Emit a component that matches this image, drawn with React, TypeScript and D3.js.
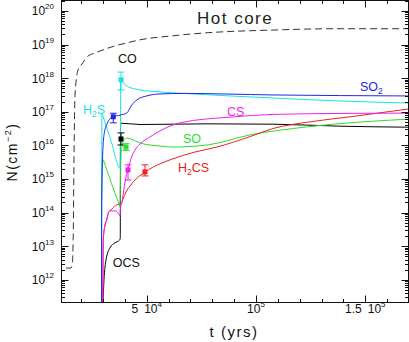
import React from 'react';
import * as d3 from 'd3';

const W = 409;
const H = 342;

// axes: time in yrs, column density as log10 N(cm^-2)
const T_RANGE = [11250, 169550];
const LOGN_RANGE = [11.324, 20.31];
const T_MAJOR = [50000, 100000, 150000];
const T_MAJOR_LABELS = [['5\u2002', '4'], ['', '5'], ['1.5\u2002', '5']];
const T_MINOR_STEP = 10000;
const DECADES = [12, 13, 14, 15, 16, 17, 18, 19, 20];

// model curves, [t (yrs), log10 N]
const HOT_CORE = [
  [13080, 12.35], [15370, 12.35], [16050, 12.53], [16420, 13.48], [16740, 15.65],
  [17200, 17.5], [18570, 18.24], [20400, 18.42], [22690, 18.63], [26350, 18.75],
  [30010, 18.84], [35500, 18.96], [40990, 19.05], [46940, 19.14], [62030, 19.26],
  [77590, 19.35], [92680, 19.4], [107780, 19.43], [123340, 19.46], [138430, 19.47],
  [169550, 19.47],
];
const H2S = [
  [29320, 11.34], [29400, 14.5], [29470, 16.3], [29550, 16.955], [29800, 16.906],
  [33670, 16.14], [37790, 15.33], [38020, 16.6], [38110, 17.95], [40080, 17.8],
  [42360, 17.72], [46940, 17.65], [56080, 17.59], [66610, 17.545], [107780, 17.41],
  [138430, 17.32], [169550, 17.26],
];
const SO2 = [
  [29320, 11.34], [29410, 14.375], [29780, 15.57], [30470, 16.31], [31840, 16.64],
  [33210, 16.79], [34720, 16.85], [37790, 16.9], [40850, 16.96], [43140, 17.2],
  [45430, 17.35], [50000, 17.47], [56080, 17.53], [66610, 17.545], [107780, 17.5],
  [169550, 17.47],
];
const OCS = [
  [30010, 11.34], [30470, 12.0], [31380, 12.59], [33210, 12.95], [35500, 13.1],
  [37560, 13.18], [37900, 13.24], [38020, 16.5], [38110, 16.66], [46940, 16.62],
  [77590, 16.64], [107780, 16.63], [138430, 16.57], [169550, 16.54],
];
const SO = [
  [29320, 11.34], [29410, 14.375], [29780, 15.42], [30140, 15.57], [30400, 15.522],
  [37500, 14.22], [37790, 14.17], [38020, 15.12], [38480, 15.86], [39620, 16.16],
  [40990, 16.22], [42820, 16.19], [46940, 16.07], [56080, 15.98], [62030, 15.95],
  [77590, 16.01], [97260, 16.31], [123340, 16.55], [169550, 16.78],
];
const CS = [
  [29900, 11.34], [30140, 13.2], [30920, 13.63], [31700, 13.78], [32430, 13.99],
  [33210, 14.05], [35500, 14.05], [36870, 13.99], [37790, 13.9], [38110, 14.2],
  [38480, 14.25], [39160, 14.52], [39850, 14.82], [40530, 15.06], [41450, 15.27],
  [42820, 15.6], [44650, 15.86], [46940, 16.04], [51510, 16.25], [56080, 16.43],
  [65230, 16.67], [88110, 16.84], [107780, 16.92], [138430, 16.95], [169550, 16.96],
];
const H2CS = [
  [29900, 11.34], [30140, 13.2], [30920, 13.63], [31700, 13.78], [32430, 13.99],
  [34130, 14.11], [36280, 14.23], [37790, 14.26], [38570, 14.29], [39160, 14.4],
  [40530, 14.61], [42360, 14.79], [44650, 14.97], [46940, 15.1], [49220, 15.21],
  [56080, 15.45], [62030, 15.6], [72000, 15.8], [82160, 15.95], [97260, 16.26],
  [107780, 16.5], [124710, 16.7], [144380, 16.86], [169550, 17.08],
];

// observed columns: [t, log10 N, low, high]
const OBS_H2S = [38250, 17.95, 17.65, 18.18];
const OBS_SO2 = [34720, 16.85, 16.67, 16.955];
const OBS_OCS = [38250, 16.19, 16.01, 16.37];
const OBS_SO = [40530, 15.95, 15.85, 16.05];
const OBS_CS = [41450, 15.27, 14.97, 15.42];
const OBS_H2CS = [49220, 15.21, 15.09, 15.42];

const C = {
  h2s: '#17e3e3',
  so2: '#2323ee',
  ocs: '#000',
  so: '#2bdc2b',
  cs: '#ee1fee',
  h2cs: '#ee2020',
  hot: '#333',
};

const FONT = '"Liberation Sans", Arial, sans-serif';

export default function App() {
  const x = d3.scaleLinear().domain(T_RANGE).range([62, 408]);
  const y = d3
    .scaleLog()
    .domain(LOGN_RANGE.map((v) => 10 ** v))
    .range([302.5, 0.5]);
  const yl = (v: number) => y(10 ** v);
  const line = d3
    .line<number[]>()
    .x((d) => x(d[0]))
    .y((d) => yl(d[1]))
    .curve(d3.curveMonotoneX);

  const L = 61.5;
  const R = 408.5;
  const T = 0.5;
  const B = 302.5;

  const yMinor: number[] = [];
  for (let d = 11; d <= 20; d++) {
    for (let k = 2; k <= 9; k++) {
      const v = d + Math.log10(k);
      if (v > LOGN_RANGE[0] && v < LOGN_RANGE[1]) yMinor.push(v);
    }
  }
  const tMinor = d3
    .range(20000, T_RANGE[1], T_MINOR_STEP)
    .filter((t) => !T_MAJOR.includes(t));

  const curves: [number[][], string][] = [
    [OCS, C.ocs],
    [SO, C.so],
    [H2CS, C.h2cs],
    [CS, C.cs],
    [H2S, C.h2s],
    [SO2, C.so2],
  ];
  const obs: [number[], string][] = [
    [OBS_H2S, C.h2s],
    [OBS_SO2, C.so2],
    [OBS_OCS, C.ocs],
    [OBS_SO, C.so],
    [OBS_CS, C.cs],
    [OBS_H2CS, C.h2cs],
  ];

  const label = (t: number, v: number) => ({ x: x(t), y: yl(v) });
  const sub = (main: string, s: string, rest: string, t: number, v: number, color: string) => {
    const p = label(t, v);
    return (
      <text x={p.x} y={p.y} fill={color} fontSize={12.5}>
        {main}
        <tspan fontSize={8.5} dy={3}>{s}</tspan>
        <tspan dy={-3}>{rest}</tspan>
      </text>
    );
  };

  return (
    <svg
      width={W}
      height={H}
      style={{ position: 'absolute', left: 0, top: 0, background: '#fff' }}
      fontFamily={FONT}
    >
      <defs>
        <clipPath id="plot">
          <rect x={L} y={T} width={R - L} height={B - T} />
        </clipPath>
      </defs>

      <g clipPath="url(#plot)" fill="none" strokeWidth={1}>
        <path d={line(HOT_CORE) || ''} stroke={C.hot} strokeDasharray="7,4" />
        {curves.map(([data, color], i) => (
          <path key={i} d={line(data) || ''} stroke={color} />
        ))}
      </g>

      {obs.map(([o, color], i) => {
        const cx = x(o[0]);
        return (
          <g key={i} stroke={color} fill={color}>
            <line x1={cx} x2={cx} y1={yl(o[2])} y2={yl(o[3])} />
            <line x1={cx - 3.5} x2={cx + 3.5} y1={yl(o[2])} y2={yl(o[2])} />
            <line x1={cx - 3.5} x2={cx + 3.5} y1={yl(o[3])} y2={yl(o[3])} />
            <rect x={cx - 2.5} y={yl(o[1]) - 2.5} width={5} height={5} stroke="none" />
          </g>
        );
      })}

      {/* frame and ticks */}
      <g stroke="#111" strokeWidth={1} fill="none">
        <rect x={L} y={T} width={R - L} height={B - T} />
        {DECADES.map((d) => {
          const yy = Math.round(yl(d)) + 0.5;
          return (
            <g key={`M${d}`}>
              <line x1={L} x2={L + 7} y1={yy} y2={yy} />
              <line x1={R - 7} x2={R} y1={yy} y2={yy} />
            </g>
          );
        })}
        {yMinor.map((v, i) => {
          const yy = Math.round(yl(v)) + 0.5;
          return (
            <g key={`m${i}`}>
              <line x1={L} x2={L + 3.5} y1={yy} y2={yy} />
              <line x1={R - 3.5} x2={R} y1={yy} y2={yy} />
            </g>
          );
        })}
        {T_MAJOR.map((t) => {
          const xx = Math.round(x(t)) + 0.5;
          return (
            <g key={`T${t}`}>
              <line x1={xx} x2={xx} y1={B} y2={B - 7} />
              <line x1={xx} x2={xx} y1={T} y2={T + 7} />
            </g>
          );
        })}
        {tMinor.map((t) => {
          const xx = Math.round(x(t)) + 0.5;
          return (
            <g key={`t${t}`}>
              <line x1={xx} x2={xx} y1={B} y2={B - 3.5} />
              <line x1={xx} x2={xx} y1={T} y2={T + 3.5} />
            </g>
          );
        })}
      </g>

      {/* tick labels */}
      <g fill="#111" fontSize={12}>
        {DECADES.map((d) => (
          <text key={d} x={54} y={yl(d) + 4.5} textAnchor="end">
            10
            <tspan fontSize={8} dy={-6}>{d}</tspan>
          </text>
        ))}
        {T_MAJOR.map((t, i) => (
          <text key={t} x={x(t)} y={313} textAnchor="middle">
            {T_MAJOR_LABELS[i][0]}10
            <tspan fontSize={8} dy={-6}>{T_MAJOR_LABELS[i][1]}</tspan>
          </text>
        ))}
      </g>

      {/* axis titles */}
      <text x={234} y={337} textAnchor="middle" fontSize={15} letterSpacing={1.5} fill="#111">
        t (yrs)
      </text>
      <text
        transform="translate(17,152) rotate(-90)"
        textAnchor="middle"
        fontSize={14}
        letterSpacing={1.5}
        fill="#111"
      >
        N(cm
        <tspan fontSize={9} dy={-6}>{'\u22122'}</tspan>
        <tspan dy={6}>)</tspan>
      </text>

      {/* annotations */}
      <text {...label(73010, 19.613)} fontSize={17} letterSpacing={1.5} fill="#222">
        Hot core
      </text>
      <text {...label(36870, 18.452)} fontSize={12.5} fill="#111">
        CO
      </text>
      {sub('H', '2', 'S', 20860, 16.935, C.h2s)}
      {sub('SO', '2', '', 147590, 17.62, C.so2)}
      <text {...label(86740, 16.86)} fontSize={12.5} fill={C.cs}>
        CS
      </text>
      <text {...label(66610, 16.07)} fontSize={12.5} fill={C.so}>
        SO
      </text>
      {sub('H', '2', 'CS', 64320, 15.21, C.h2cs)}
      <text {...label(34450, 12.38)} fontSize={12.5} fill="#111">
        OCS
      </text>
    </svg>
  );
}
